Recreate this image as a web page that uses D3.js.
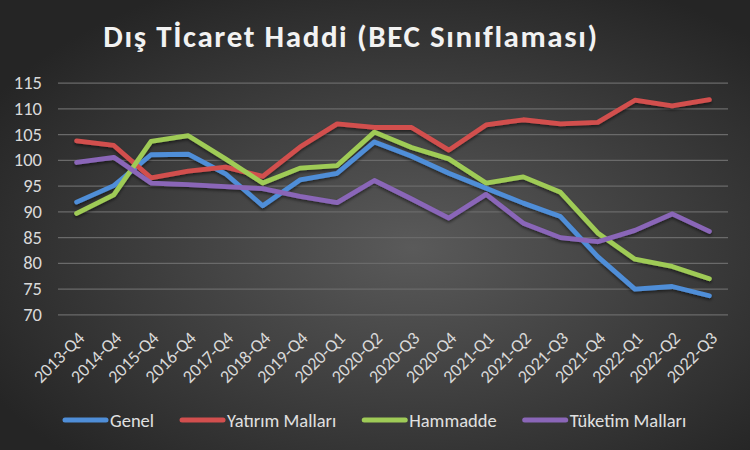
<!DOCTYPE html>
<html>
    <script src="https://d3js.org/d3.v7.min.js"></script>
    <head>
        <style>
            body { margin: 0; background: #2a2a2a; }
            text { font-family: Carlito, "Open Sans", sans-serif; }
        </style>
    </head>
    <body>
        <svg id="chart"></svg>

        <script>
            const categories = ["2013-Q4", "2014-Q4", "2015-Q4", "2016-Q4", "2017-Q4", "2018-Q4", "2019-Q4",
                "2020-Q1", "2020-Q2", "2020-Q3", "2020-Q4", "2021-Q1", "2021-Q2", "2021-Q3", "2021-Q4",
                "2022-Q1", "2022-Q2", "2022-Q3"];
            const genel = [91.8, 95.0, 101.0, 101.1, 97.3, 91.1, 96.1, 97.4, 103.5, 100.7, 97.4, 94.5, 91.6, 89.0, 81.2, 74.9, 75.4, 73.6];
            const yatirim = [103.7, 102.8, 96.5, 97.8, 98.6, 96.8, 102.5, 107.0, 106.3, 106.3, 101.9, 106.8, 107.8, 107.0, 107.3, 111.6, 110.5, 111.7];
            const hammadde = [89.6, 93.2, 103.6, 104.7, 100.2, 95.5, 98.4, 98.9, 105.4, 102.4, 100.2, 95.5, 96.7, 93.7, 85.8, 80.7, 79.3, 76.9];
            const tuketim = [99.5, 100.5, 95.5, 95.2, 94.8, 94.4, 92.9, 91.7, 96.0, 92.4, 88.7, 93.3, 87.7, 84.9, 84.1, 86.3, 89.5, 86.1];
            const seriesNames = ["Genel", "Yatırım Malları", "Hammadde", "Tüketim Malları"];
            const yTicks = [70, 75, 80, 85, 90, 95, 100, 105, 110, 115];

            const series = [genel, yatirim, hammadde, tuketim];
            const colors = ["#4f8ed8", "#d24f4e", "#9fcb57", "#8a66b8"];

            const width = 750;
            const height = 450;
            const margin = { top: 82.7, right: 22, bottom: 135.7, left: 58 };

            const svg = d3.select("#chart")
                .attr("viewBox", [0, 0, width, height])
                .attr("width", width)
                .attr("height", height);

            const defs = svg.append("defs");
            const grad = defs.append("radialGradient")
                .attr("id", "bg")
                .attr("cx", "55%").attr("cy", "55%").attr("r", "65%");
            grad.append("stop").attr("offset", "0%").attr("stop-color", "#5a5a5a");
            grad.append("stop").attr("offset", "100%").attr("stop-color", "#252525");

            const shadow = defs.append("filter").attr("id", "shadow")
                .attr("x", "-10%").attr("y", "-10%").attr("width", "120%").attr("height", "130%");
            shadow.append("feDropShadow")
                .attr("dx", 0).attr("dy", 2).attr("stdDeviation", 1.5)
                .attr("flood-color", "#000").attr("flood-opacity", 0.5);

            svg.append("rect")
                .attr("width", width).attr("height", height)
                .attr("fill", "url(#bg)");

            const x_scale = d3.scaleBand()
                .domain(categories)
                .range([margin.left, width - margin.right]);
            const y_scale = d3.scaleLinear()
                .domain([70, 115])
                .range([height - margin.bottom, margin.top]);

            // title
            svg.append("text")
                .attr("x", 351)
                .attr("y", 47)
                .attr("text-anchor", "middle")
                .attr("fill", "#f2f2f2")
                .attr("font-size", 31)
                .attr("font-weight", "bold")
                .attr("letter-spacing", 1.6)
                .text("Dış Tİcaret Haddi (BEC Sınıflaması)");

            // y axis with gridlines
            const y_axis = d3.axisLeft(y_scale)
                .tickValues(yTicks)
                .tickSize(-(width - margin.left - margin.right))
                .tickPadding(16);
            const gy = svg.append("g")
                .attr("transform", `translate(${margin.left},0)`)
                .call(y_axis);
            gy.select(".domain").remove();
            gy.selectAll(".tick line").attr("stroke", "#6a6a6a").attr("stroke-width", 1.2);
            gy.selectAll(".tick text")
                .attr("fill", "#d9d9d9")
                .attr("font-size", 18.5)
                .attr("font-family", "Carlito, 'Open Sans', sans-serif");

            // x axis
            const x_axis = d3.axisBottom(x_scale).tickSize(0).tickPadding(0);
            const gx = svg.append("g")
                .attr("transform", `translate(0,${height - margin.bottom})`)
                .call(x_axis);
            gx.select(".domain").remove();
            gx.selectAll(".tick text")
                .attr("fill", "#d9d9d9")
                .attr("font-size", 18)
                .attr("font-family", "Carlito, 'Open Sans', sans-serif")
                .attr("text-anchor", "end")
                .attr("dy", 0)
                .attr("transform", "translate(9,25) rotate(-45)");

            // lines
            const line = d3.line()
                .x((d, i) => x_scale(categories[i]) + x_scale.bandwidth() / 2)
                .y((d) => y_scale(d));

            svg.append("g")
                .attr("filter", "url(#shadow)")
                .selectAll("path")
                .data(series)
                .join("path")
                .attr("d", line)
                .attr("fill", "none")
                .attr("stroke", (d, i) => colors[i])
                .attr("stroke-width", 4.8)
                .attr("stroke-linejoin", "round")
                .attr("stroke-linecap", "round");

            // legend
            const legend = svg.append("g").attr("transform", "translate(0,420)");
            let lx = 63;
            seriesNames.forEach((name, i) => {
                legend.append("line")
                    .attr("x1", lx + 2).attr("x2", lx + 43)
                    .attr("y1", 0).attr("y2", 0)
                    .attr("stroke", colors[i])
                    .attr("stroke-width", 5)
                    .attr("stroke-linecap", "round");
                const t = legend.append("text")
                    .attr("x", lx + 47)
                    .attr("y", 6.5)
                    .attr("fill", "#e0e0e0")
                    .attr("font-size", 18.5)
                    .text(name);
                lx += 47 + t.node().getComputedTextLength() + 26;
            });
        </script>
    </body>
</html>
